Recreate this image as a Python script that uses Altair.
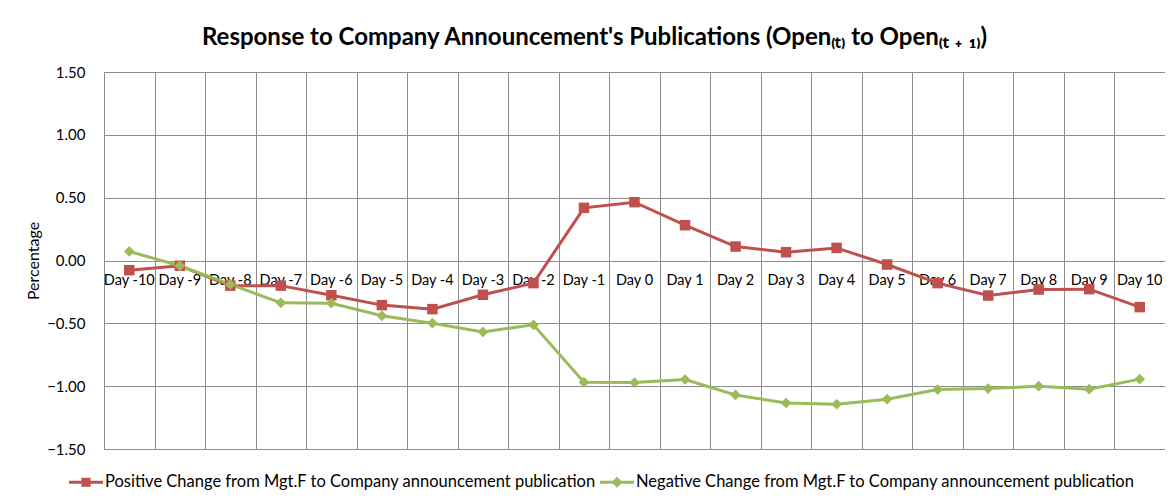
import altair as alt
import pandas as pd

days = ["Day -10", "Day -9", "Day -8", "Day -7", "Day -6", "Day -5", "Day -4",
        "Day -3", "Day -2", "Day -1", "Day 0", "Day 1", "Day 2", "Day 3",
        "Day 4", "Day 5", "Day 6", "Day 7", "Day 8", "Day 9", "Day 10"]
positive = [-0.077, -0.042, -0.20, -0.20, -0.276, -0.355, -0.387, -0.273, -0.18,
            0.419, 0.464, 0.281, 0.111, 0.066, 0.10, -0.032, -0.18, -0.279,
            -0.231, -0.228, -0.371]
negative = [0.072, -0.042, -0.19, -0.337, -0.34, -0.44, -0.499, -0.568, -0.512,
            -0.968, -0.971, -0.947, -1.07, -1.134, -1.144, -1.104, -1.027,
            -1.019, -1.00, -1.024, -0.944]
series_names = ["Positive Change from Mgt.F to Company announcement publication",
                "Negative Change from Mgt.F to Company announcement publication"]
colors = ["#C0504D", "#9BBB59"]
y_ticks = [-1.5, -1.0, -0.5, 0.0, 0.5, 1.0, 1.5]

rows = []
for d, p, n in zip(days, positive, negative):
    rows.append({"day": d, "series": series_names[0], "value": p})
    rows.append({"day": d, "series": series_names[1], "value": n})
df = pd.DataFrame(rows)

W, H = 1061, 377
FONT = "Lato"
GRID = "#8C8C8C"

xscale = alt.Scale(type="band", domain=days, paddingInner=0, paddingOuter=0)
yscale = alt.Scale(domain=[-1.5, 1.5], nice=False, zero=False)
cscale = alt.Scale(domain=series_names, range=colors)

sq_path = "M-1,-0.09L1,-0.09L1,0.09L-1,0.09Z M-0.27,-0.27L0.27,-0.27L0.27,0.27L-0.27,0.27Z"
dia_path = "M-1,-0.09L1,-0.09L1,0.09L-1,0.09Z M0,-0.32L0.32,0L0,0.32L-0.32,0Z"

legend_def = alt.Legend(orient="none", legendX=-35, legendY=393,
                        direction="horizontal", title=None,
                        symbolSize=1156, symbolStrokeWidth=0,
                        symbolOpacity=1, labelFont=FONT,
                        labelFontSize=16.5, labelColor="#000",
                        labelLimit=800, labelOffset=2,
                        columnPadding=4)

base = alt.Chart(df)

lines = base.mark_line(strokeWidth=3).encode(
    x=alt.X("day:N", scale=xscale, sort=days,
            axis=alt.Axis(orient="top", grid=True, tickBand="extent", labels=False,
                          ticks=False, domain=False, title=None,
                          gridColor=GRID, gridWidth=1, gridOpacity=1)),
    y=alt.Y("value:Q", scale=yscale,
            axis=alt.Axis(values=y_ticks, format=".2f", grid=True, gridColor=GRID,
                          gridWidth=1, gridOpacity=1, domain=False, ticks=False,
                          labelFont=FONT, labelFontSize=15, labelColor="#000",
                          labelPadding=19, title="Percentage", titleFont=FONT,
                          titleFontSize=16, titleFontWeight="normal",
                          titleColor="#000", titlePadding=5)),
    color=alt.Color("series:N", scale=cscale, legend=legend_def),
    detail="series:N",
)

pts_pos = base.transform_filter(alt.datum.series == series_names[0]).mark_point(
    shape="square", filled=True, size=110, opacity=1).encode(
    x=alt.X("day:N", scale=xscale, sort=days,
            axis=alt.Axis(orient="bottom", offset=-H / 2, grid=False, ticks=False,
                          domain=False, labelAngle=0, labelFont=FONT,
                          labelFontSize=14.5, labelColor="#000", labelPadding=13,
                          title=None)),
    y=alt.Y("value:Q", scale=yscale),
    color=alt.Color("series:N", scale=cscale, legend=legend_def),
)

pts_neg = base.transform_filter(alt.datum.series == series_names[1]).mark_point(
    shape="diamond", filled=True, size=115, opacity=1).encode(
    x=alt.X("day:N", scale=xscale, sort=days, axis=None),
    y=alt.Y("value:Q", scale=yscale),
    color=alt.Color("series:N", scale=cscale, legend=legend_def),
)

legend_layer = base.mark_point(filled=True, opacity=0).encode(
    x=alt.X("day:N", scale=xscale, sort=days, axis=None),
    y=alt.Y("value:Q", scale=yscale),
    color=alt.Color("series:N", scale=cscale, legend=legend_def),
    shape=alt.Shape("series:N", scale=alt.Scale(domain=series_names,
                                                range=[sq_path, dia_path]),
                    legend=legend_def),
)

chart = alt.layer(lines, pts_pos, pts_neg, legend_layer).resolve_axis(
    x="independent"
).properties(
    width=W, height=H,
    padding={"left": 96, "top": 64, "right": 0, "bottom": 44},
    autosize="none",
    title=alt.TitleParams(
        "Response to Company Announcement's Publications (Open\u208d\u209c\u208e to Open\u208d\u209c \u208a \u2081\u208e)",
        font=FONT, fontSize=24, fontWeight="bold", color="#000",
        anchor="middle", dx=-40, offset=15),
).configure_view(stroke=GRID, strokeWidth=1)

chart.save("out.html", embed_options={"renderer": "svg", "actions": False})
